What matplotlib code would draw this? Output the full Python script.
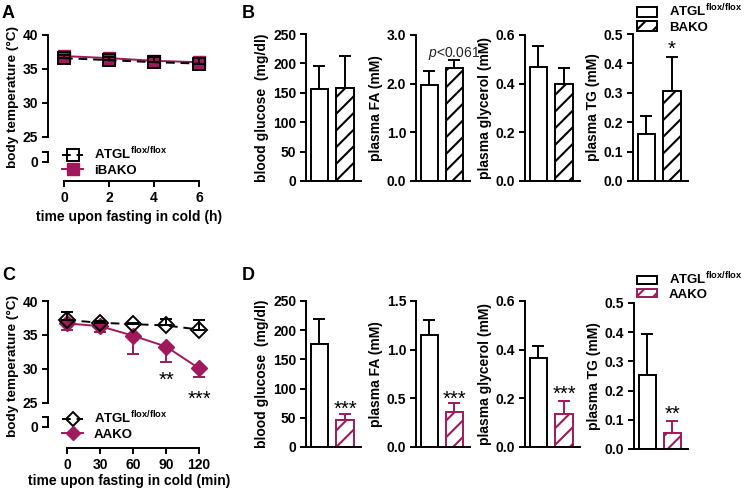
import matplotlib
matplotlib.use('Agg')
import matplotlib.pyplot as plt
from matplotlib.lines import Line2D
from matplotlib.patches import Patch

plt.rcParams.update({
    'font.family': ['Liberation Sans', 'DejaVu Sans'],
    'font.weight': 'bold',
    'axes.labelweight': 'bold',
    'font.size': 10,
    'mathtext.fontset': 'custom',
    'mathtext.rm': 'Liberation Sans:weight=bold',
    'mathtext.bf': 'Liberation Sans:weight=bold',
    'mathtext.it': 'Liberation Sans:style=italic:weight=normal',
    'hatch.linewidth': 1.5,
    'axes.linewidth': 1.4,
    'xtick.major.width': 1.4, 'ytick.major.width': 1.4,
    'xtick.major.size': 4.5, 'ytick.major.size': 4.5,
    'xtick.major.pad': 2.5, 'ytick.major.pad': 2.5,
})

MAG = '#a0195a'
W, H = 747, 491

# ---------------- data ----------------
time_h = [0, 2, 4, 6]
a_ctrl = [36.6, 36.3, 36.0, 35.8]
a_ctrl_err = [0.5, 0.5, 0.7, 0.8]
a_ko = [36.9, 36.6, 36.2, 36.0]
a_ko_err = [0.4, 0.4, 0.5, 0.6]

time_min = [0, 30, 60, 90, 120]
c_ctrl = [37.2, 36.8, 36.6, 36.4, 35.8]
c_ctrl_err = [1.2, 0.3, 0.2, 0.9, 1.4]
c_ko = [36.7, 36.3, 34.9, 33.3, 30.1]
c_ko_err = [0.9, 0.9, 2.7, 2.3, 1.3]

bar_ylabels = ['blood glucose  (mg/dl)', 'plasma FA (mM)',
               'plasma glycerol (mM)', 'plasma TG (mM)']
b_ctrl = [156, 1.98, 0.47, 0.159]
b_ctrl_err = [39, 0.29, 0.085, 0.063]
b_ko = [158, 2.33, 0.40, 0.305]
b_ko_err = [54, 0.15, 0.065, 0.117]
b_yticks = [[0, 50, 100, 150, 200, 250], [0, 1.0, 2.0, 3.0],
            [0, 0.2, 0.4, 0.6], [0, 0.1, 0.2, 0.3, 0.4, 0.5]]

d_ctrl = [176, 1.15, 0.364, 0.255]
d_ctrl_err = [44, 0.155, 0.05, 0.14]
d_ko = [47, 0.355, 0.135, 0.055]
d_ko_err = [9, 0.095, 0.052, 0.04]
d_yticks = [[0, 50, 100, 150, 200, 250], [0, 0.5, 1.0, 1.5],
            [0, 0.2, 0.4, 0.6], [0, 0.1, 0.2, 0.3, 0.4, 0.5]]
tick_fmt = ['{:.0f}', '{:.1f}', '{:.1f}', '{:.1f}']

ctrl_label = r'ATGL$^{\mathrm{flox/flox}}$'

fig = plt.figure(figsize=(W / 100, H / 100), dpi=100)


def box(l, t, r, b):
    return [l / W, 1 - b / H, (r - l) / W, (b - t) / H]


DASH = (0, (4.5, 3))


def line_panel(top_px, y25_px, zero_px, seg_px, xaxis_px, xs, xlim, xticks,
               ctrl, ctrl_err, ko, ko_err, marker, xlabel, xlabelpad):
    ax = fig.add_axes(box(48, top_px, 210, y25_px))
    ax.set_ylim(25, 40)
    ax.set_xlim(*xlim)
    for s in ['top', 'right', 'bottom']:
        ax.spines[s].set_visible(False)
    ax.spines['left'].set_bounds(25, 40)
    ax.set_yticks([25, 30, 35, 40])
    ax.set_xticks([])
    ax.patch.set_alpha(0)
    ax.plot(xs, ko, color=MAG, lw=1.4, marker=marker, ms=8, mfc=MAG, mec=MAG,
            zorder=3, clip_on=False)
    ax.errorbar(xs, ko, yerr=[ko_err, [0] * len(ko)],
                fmt='none', ecolor=MAG, elinewidth=1.4, capsize=4.5, capthick=1.4,
                zorder=2, clip_on=False)
    ax.plot(xs, ctrl, color='k', lw=1.4, ls=DASH, marker=marker, ms=8, mfc='none',
            mec='k', mew=1.4, zorder=4, clip_on=False)
    ax.errorbar(xs, ctrl, yerr=[[0] * len(ctrl), ctrl_err], fmt='none', ecolor='k',
                elinewidth=1.4, capsize=4.5, capthick=1.4, zorder=4, clip_on=False)
    scale = (y25_px - top_px) / 15.0
    low = fig.add_axes(box(48, seg_px - 3, 210, xaxis_px))
    low.set_ylim(-(xaxis_px - zero_px) / scale, (zero_px - seg_px + 3) / scale)
    low.set_xlim(*xlim)
    low.patch.set_alpha(0)
    for s in ['top', 'right']:
        low.spines[s].set_visible(False)
    seg_top = (zero_px - seg_px) / scale
    low.spines['left'].set_bounds(0, seg_top)
    low.set_yticks([0, seg_top])
    low.set_yticklabels(['0', ''])
    low.spines['bottom'].set_bounds(xticks[0], xticks[-1])
    low.set_xticks(xticks)
    low.set_xlabel(xlabel, labelpad=xlabelpad)
    handles = [Line2D([], [], color='k', lw=1.4, ls=DASH, marker=marker, ms=8,
                      mfc='none', mec='k', mew=1.4),
               Line2D([], [], color=MAG, lw=1.4, marker=marker, ms=8, mfc=MAG, mec=MAG)]
    return ax, low, handles


# ---------- Panel A ----------
axA, lowA, hA = line_panel(35, 137, 162, 152, 181, time_h, (-0.71, 6.49), [0, 2, 4, 6],
                           a_ctrl, a_ctrl_err, a_ko, a_ko_err, 's',
                           'time upon fasting in cold (h)', 4)
fig.legend(hA, [ctrl_label, 'iBAKO'], loc='upper left', bbox_to_anchor=(62 / W, 1 - 146 / H),
           frameon=False, handlelength=1.6, handletextpad=0.8, labelspacing=0.15,
           borderpad=0, borderaxespad=0, fontsize=9.5)
fig.text(13 / W, 1 - 97 / H, 'body temperature (°C)', rotation=90, ha='center', va='center',
         fontsize=9.7)

# ---------- Panel C ----------
axC, lowC, hC = line_panel(301, 403, 427, 417, 448, time_min, (-17.3, 130), [0, 30, 60, 90, 120],
                           c_ctrl, c_ctrl_err, c_ko, c_ko_err, 'D',
                           'time upon fasting in cold (min)', 1.5)
for h in hC:
    h.set_markersize(7)
fig.legend(hC, [ctrl_label, 'AAKO'], loc='upper left', bbox_to_anchor=(62 / W, 1 - 410 / H),
           frameon=False, handlelength=1.6, handletextpad=0.8, labelspacing=0.15,
           borderpad=0, borderaxespad=0, fontsize=9.5)
fig.text(13 / W, 1 - 366 / H, 'body temperature (°C)', rotation=90, ha='center', va='center',
         fontsize=9.7)
axC.annotate('**', xy=(time_min[3], 29.3), xytext=(0, -4.5), textcoords='offset points',
             ha='center', va='center', fontsize=14.5, fontweight='normal')
axC.annotate('***', xy=(time_min[4], 26.5), xytext=(0, -4.5), textcoords='offset points',
             ha='center', va='center', fontsize=14.5, fontweight='normal', annotation_clip=False)

# ---------- bar panels ----------
bar_x = [0, 1]
bw = 0.69


def bar_panel(rect, ctrl, cerr, ko, kerr, yticks, fmt, ylabel, kocolor):
    ax = fig.add_axes(box(*rect))
    ax.set_xlim(-0.53, 1.63)
    ax.set_ylim(0, yticks[-1])
    for s in ['top', 'right']:
        ax.spines[s].set_visible(False)
    ax.set_xticks([])
    ax.set_yticks(yticks)
    ax.set_yticklabels([fmt.format(v) for v in yticks])
    ax.errorbar([bar_x[0]], [ctrl], yerr=[[0], [cerr]], fmt='none', ecolor='k',
                elinewidth=1.4, capsize=4.5, capthick=1.4, zorder=1, clip_on=False)
    ax.errorbar([bar_x[1]], [ko], yerr=[[0], [kerr]], fmt='none', ecolor=kocolor,
                elinewidth=1.4, capsize=4.5, capthick=1.4, zorder=1, clip_on=False)
    ax.bar([bar_x[0]], [ctrl], width=bw, facecolor='white', edgecolor='k', lw=1.4, zorder=2)
    ax.bar([bar_x[1]], [ko], width=bw, facecolor='white', edgecolor=kocolor, lw=1.4,
           hatch='//', zorder=2)
    ax.set_ylabel(ylabel, labelpad=3)
    return ax


b_rects = [(306, 34, 361, 181), (416, 35, 470, 181), (525, 35, 580, 181), (633, 34, 688, 181)]
d_rects = [(306, 301, 361, 447), (416, 301, 470, 447), (525, 301, 580, 447), (634, 303, 688, 449)]

axB = []
for i in range(4):
    axB.append(bar_panel(b_rects[i], b_ctrl[i], b_ctrl_err[i], b_ko[i], b_ko_err[i],
                         b_yticks[i], tick_fmt[i], bar_ylabels[i], 'k'))
axD = []
for i in range(4):
    axD.append(bar_panel(d_rects[i], d_ctrl[i], d_ctrl_err[i], d_ko[i], d_ko_err[i],
                         d_yticks[i], tick_fmt[i], bar_ylabels[i], MAG))

axB[1].text(1, 2.61, r'$p$<0.061', ha='center', va='center', fontweight='normal',
            fontsize=10, color='#222222')
axB[3].annotate('*', xy=(1, 0.469), xytext=(0, -4.5), textcoords='offset points',
                ha='center', va='center', fontsize=14.5, fontweight='normal')
d_stars = ['***', '***', '***', '**']
d_star_y = [75, 0.555, 0.242, 0.14]
for i in range(4):
    axD[i].annotate(d_stars[i], xy=(1, d_star_y[i]), xytext=(0, -4.5), textcoords='offset points',
                    ha='center', va='center', fontsize=14.5, fontweight='normal')

# bar legends
hB = [Patch(facecolor='white', edgecolor='k', lw=1.4),
      Patch(facecolor='white', edgecolor='k', lw=1.4, hatch='//')]
fig.legend(hB, [ctrl_label, 'BAKO'], loc='upper left', bbox_to_anchor=(637 / W, 1 - 3 / H),
           frameon=False, handlelength=1.5, handleheight=0.8, handletextpad=0.9,
           labelspacing=0.1, borderpad=0, borderaxespad=0, fontsize=9.5)
hD = [Patch(facecolor='white', edgecolor='k', lw=1.4),
      Patch(facecolor='white', edgecolor=MAG, lw=1.4, hatch='//')]
fig.legend(hD, [ctrl_label, 'AAKO'], loc='upper left', bbox_to_anchor=(637 / W, 1 - 271 / H),
           frameon=False, handlelength=1.5, handleheight=0.6, handletextpad=0.9,
           labelspacing=0.1, borderpad=0, borderaxespad=0, fontsize=9.5)

# panel letters
for letter, x, y in [('A', 2, 13), ('B', 242, 13), ('C', 2, 275), ('D', 242, 275)]:
    fig.text(x / W, 1 - y / H, letter, fontsize=13, fontweight='bold', ha='left', va='center')

fig.savefig('out.png', dpi=100)
